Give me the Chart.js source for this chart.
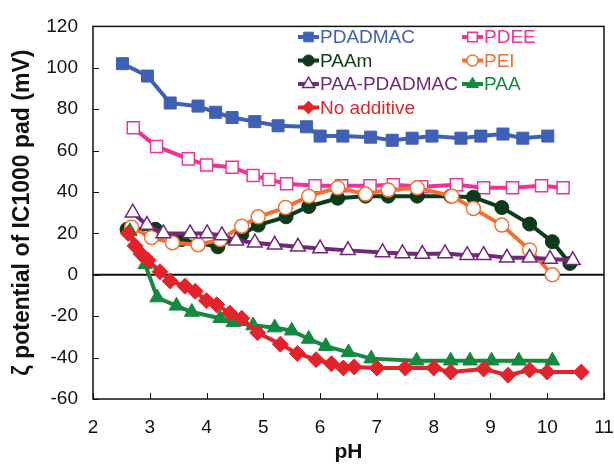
<!DOCTYPE html>
<html>
<head>
<meta charset="utf-8">
<script src="https://cdn.jsdelivr.net/npm/chart.js@4.4.0/dist/chart.umd.min.js"></script>
<style>
  html, body { margin: 0; padding: 0; background: #fff; }
</style>
</head>
<body>
<canvas id="zetaChart" width="614" height="465"></canvas>
<script>
// pH / zeta potential (mV)
const pdadmacPH = [2.52, 2.96, 3.36, 3.85, 4.16, 4.45, 4.85, 5.26, 5.76, 6.0, 6.4, 6.89, 7.27, 7.62, 7.97, 8.48, 8.83, 9.22, 9.57, 10.01];
const pdadmacZeta = [102, 96, 83, 81.5, 78.5, 76, 74, 72, 71.5, 67, 67, 66.5, 65, 66, 67, 66, 67, 68, 66, 67];

const pdeePH = [2.71, 3.12, 3.68, 4.0, 4.45, 4.82, 5.1, 5.41, 5.91, 6.38, 6.88, 7.29, 7.79, 8.4, 8.88, 9.39, 9.9, 10.28];
const pdeeZeta = [71, 62, 56, 53, 52, 48, 46, 44, 43, 43, 43, 43.5, 42.5, 43.5, 42, 42, 43, 42];

const paamPH = [2.6, 3.1, 3.56, 4.2, 4.62, 4.91, 5.4, 5.8, 6.31, 6.8, 7.2, 7.71, 8.3, 8.7, 9.2, 9.69, 10.09, 10.4];
const paamZeta = [22, 22, 17, 13.5, 19.5, 24, 28, 33, 37, 38, 38, 38, 38, 37.5, 32.5, 24.5, 16, 5.5];

const peiPH = [2.68, 3.03, 3.4, 3.85, 4.24, 4.62, 4.91, 5.39, 5.8, 6.31, 6.8, 7.2, 7.71, 8.32, 8.7, 9.2, 9.69, 10.09];
const peiZeta = [23, 18, 15.5, 14.5, 17, 23.5, 28, 32.5, 38, 42, 39, 41, 42, 38, 32, 24, 12, 0];

const paaPdadmacPH = [2.7, 2.95, 3.24, 3.71, 4.01, 4.27, 4.52, 4.85, 5.2, 5.61, 6.0, 6.49, 7.1, 7.45, 7.8, 8.2, 8.59, 8.88, 9.29, 9.69, 10.05, 10.45];
const paaPdadmacZeta = [30, 24, 20, 20, 20, 19, 16.5, 15.5, 14.5, 13.5, 12.7, 11.8, 10.8, 10.3, 10, 10.3, 9.5, 9.5, 8.2, 8.2, 7.6, 7];

const paaPH = [2.65, 2.92, 3.13, 3.47, 3.74, 4.24, 4.47, 4.82, 5.2, 5.5, 5.8, 6.1, 6.5, 6.9, 7.7, 8.3, 8.64, 9.02, 9.5, 10.09];
const paaZeta = [21, 5, -11, -15, -18, -21, -23, -24.5, -25.5, -27, -31, -34.5, -37.5, -40.5, -41.5, -41.5, -41.5, -41.5, -41.5, -41.5];

const noAddPH = [2.62, 2.74, 2.85, 2.97, 3.18, 3.36, 3.62, 3.8, 4.0, 4.18, 4.41, 4.62, 4.9, 5.3, 5.6, 5.93, 6.2, 6.41, 6.6, 7.0, 7.5, 8.0, 8.3, 8.88, 9.31, 9.69, 10.0, 10.6];
const noAddZeta = [20, 14, 10, 7, 1.5, -3, -5.5, -8, -12.5, -14.5, -18.5, -21, -28, -33.5, -38, -41, -43, -45, -44.5, -45, -45, -45, -47, -45.5, -48.5, -46, -47, -47];

const xTicks = [2, 3, 4, 5, 6, 7, 8, 9, 10, 11];
const yTicks = [-60, -40, -20, 0, 20, 40, 60, 80, 100, 120];

const FONT = "'Liberation Sans', Arial, sans-serif";

function pts(xs, ys) {
  return xs.map((x, i) => ({ x: x, y: ys[i] }));
}

function series(label, xs, ys, color, style, radius, filled) {
  return {
    label: label,
    data: pts(xs, ys),
    showLine: true,
    tension: 0,
    borderColor: color,
    borderWidth: 4,
    pointStyle: style,
    pointRadius: radius,
    pointBorderWidth: filled ? 1 : 1.5,
    pointBorderColor: color,
    pointBackgroundColor: filled ? color : '#fff',
  };
}

// first one ends up on top
const datasets = [
  series('No additive', noAddPH, noAddZeta, '#e3232b', 'rectRot', 8, true),
  series('PAA', paaPH, paaZeta, '#14893f', 'triangle', 8.5, true),
  series('PAA-PDADMAC', paaPdadmacPH, paaPdadmacZeta, '#72277b', 'triangle', 8.5, false),
  series('PEI', peiPH, peiZeta, '#f37130', 'circle', 7, false),
  series('PAAm', paamPH, paamZeta, '#0c3a1b', 'circle', 7, true),
  series('PDEE', pdeePH, pdeeZeta, '#ee3398', 'rect', 8.5, false),
  series('PDADMAC', pdadmacPH, pdadmacZeta, '#4060b6', 'rect', 8.5, true),
];

// legend: two columns inside the plot
const legendCols = [
  ['PDADMAC', 'PAAm', 'PAA-PDADMAC', 'No additive'],
  ['PDEE', 'PEI', 'PAA'],
];

const framePlugin = {
  id: 'frame',
  beforeDatasetsDraw(chart) {
    const { ctx, chartArea: a, scales } = chart;
    const x = scales.x;
    const y = scales.y;
    ctx.save();
    ctx.strokeStyle = '#111';
    ctx.lineWidth = 1.5;
    ctx.strokeRect(a.left, a.top, a.right - a.left, a.bottom - a.top);
    const y0 = y.getPixelForValue(0);
    ctx.lineWidth = 2;
    ctx.beginPath();
    ctx.moveTo(a.left, y0);
    ctx.lineTo(a.right, y0);
    ctx.stroke();
    ctx.lineWidth = 1;
    ctx.beginPath();
    y.ticks.forEach((t) => {
      const py = Math.round(y.getPixelForValue(t.value)) + 0.5;
      ctx.moveTo(a.left, py);
      ctx.lineTo(a.left + 6, py);
    });
    x.ticks.forEach((t) => {
      const px = Math.round(x.getPixelForValue(t.value)) + 0.5;
      ctx.moveTo(px, a.bottom);
      ctx.lineTo(px, a.bottom - 6);
    });
    ctx.stroke();
    ctx.restore();
  },
};

const legendPlugin = {
  id: 'innerLegend',
  afterDraw(chart) {
    const ctx = chart.ctx;
    const colX = [298, 462];
    const rowY = [37, 60.5, 84, 107.5];
    ctx.save();
    ctx.font = '19px ' + FONT;
    ctx.textBaseline = 'middle';
    legendCols.forEach((col, c) => {
      col.forEach((name, r) => {
        const ds = chart.data.datasets.find((d) => d.label === name);
        const lx = colX[c];
        const ly = rowY[r];
        ctx.strokeStyle = ds.borderColor;
        ctx.lineWidth = 4;
        ctx.beginPath();
        ctx.moveTo(lx, ly);
        ctx.lineTo(lx + 21, ly);
        ctx.stroke();
        ctx.fillStyle = ds.pointBackgroundColor;
        ctx.lineWidth = ds.pointBorderWidth;
        Chart.helpers.drawPoint(
          ctx,
          { pointStyle: ds.pointStyle, radius: ds.pointRadius * 0.8, borderWidth: ds.pointBorderWidth, rotation: 0 },
          lx + 10.5,
          ly,
        );
        ctx.fillStyle = ds.borderColor;
        ctx.fillText(name, lx + 22, ly + 1);
      });
    });
    ctx.restore();
  },
};

new Chart(document.getElementById('zetaChart'), {
  type: 'scatter',
  data: { datasets: datasets },
  options: {
    responsive: false,
    animation: false,
    layout: { padding: { top: 22, right: 10, left: 0, bottom: 0 } },
    plugins: {
      legend: { display: false },
      tooltip: { enabled: false },
    },
    scales: {
      x: {
        type: 'linear',
        min: 2,
        max: 11,
        afterBuildTicks: (s) => { s.ticks = xTicks.map((v) => ({ value: v })); },
        afterFit: (s) => {
          s.height = 66;
          s.paddingLeft = 0;
          s.paddingRight = 10;
        },
        grid: { display: false, drawTicks: false },
        border: { display: false },
        ticks: { color: '#111', padding: 17, font: { family: FONT, size: 19 } },
        title: {
          display: true,
          text: 'pH',
          color: '#111',
          padding: { top: 0, bottom: 0 },
          font: { family: FONT, size: 21, weight: 'bold' },
        },
      },
      y: {
        type: 'linear',
        min: -60,
        max: 120,
        afterBuildTicks: (s) => { s.ticks = yTicks.map((v) => ({ value: v })); },
        afterFit: (s) => { s.width = 93; },
        grid: { display: false, drawTicks: false },
        border: { display: false },
        ticks: { color: '#111', padding: 15, font: { family: FONT, size: 19 } },
        title: {
          display: true,
          text: 'ζ potential of IC1000 pad (mV)',
          color: '#111',
          padding: { top: 9, bottom: 0 },
          font: { family: FONT, size: 23, weight: 'bold' },
        },
      },
    },
  },
  plugins: [framePlugin, legendPlugin],
});
</script>
</body>
</html>
